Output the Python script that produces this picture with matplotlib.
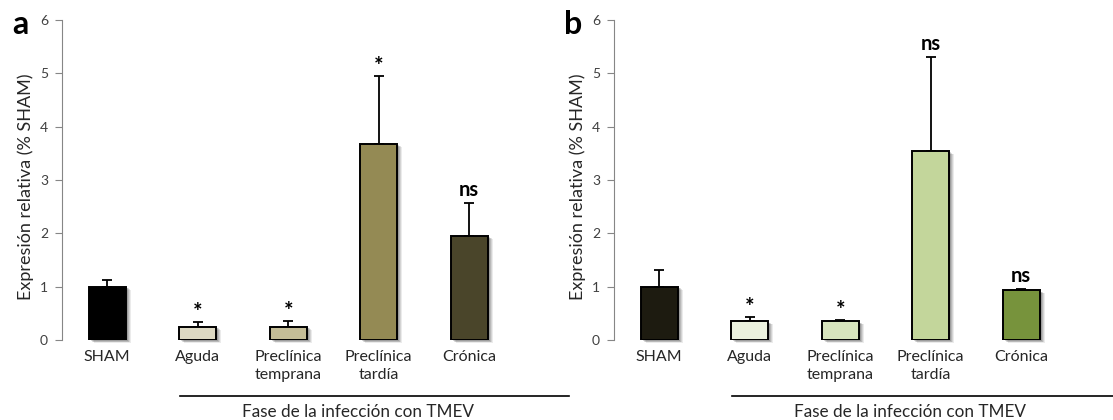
import numpy as np
import matplotlib
matplotlib.use("Agg")
import matplotlib.pyplot as plt
import matplotlib.transforms as mtransforms
from matplotlib.lines import Line2D

plt.rcParams['font.family'] = ['Lato', 'DejaVu Sans']

categories = ['SHAM', 'Aguda', 'Preclínica\ntemprana', 'Preclínica\ntardía', 'Crónica']

# panel a
vals_a = [1.0, 0.25, 0.25, 3.68, 1.95]
err_a = [0.12, 0.09, 0.11, 1.27, 0.61]
sig_a = ['', '*', '*', '*', 'ns']
colors_a = ['#000000', '#ddd9c3', '#c4bd97', '#948a54', '#4a452a']

# panel b
vals_b = [1.0, 0.35, 0.35, 3.54, 0.93]
err_b = [0.31, 0.08, 0.02, 1.77, 0.02]
sig_b = ['', '*', '*', 'ns', 'ns']
colors_b = ['#1d1b10', '#ebf1de', '#d7e4bd', '#c3d69b', '#77933c']

xlabel = 'Fase de la infección con TMEV'
ylabel = 'Expresión relativa (% SHAM)'

W, H = 1113, 420
fig = plt.figure(figsize=(W / 100, H / 100), dpi=100)


def panel(left_px, vals, errs, sigs, colors, letter, line_px, label_cx):
    ax = fig.add_axes([left_px / W, 1 - 340 / H, 493 / W, 320 / H])
    x = np.arange(len(vals))
    # soft drop shadow
    for k, a in [(5, 0.08), (4, 0.1), (3, 0.12), (2, 0.15)]:
        tr = mtransforms.offset_copy(ax.transData, fig=fig, x=k, y=-k * 0.6, units='dots')
        ax.bar(x, vals, width=0.41, color='#000000', alpha=a, linewidth=0,
               transform=tr, zorder=1, clip_on=False)
    ax.bar(x, vals, width=0.41, color=colors, edgecolor='black', linewidth=1.4, zorder=3)
    ax.errorbar(x, vals, yerr=[np.zeros(len(vals)), errs], fmt='none', ecolor='black',
                elinewidth=1.3, capsize=3.5, capthick=1.3, zorder=2)
    for xi, v, e, s in zip(x, vals, errs, sigs):
        if s == '*':
            ax.text(xi, v + e - 0.02, s, ha='center', va='bottom', fontsize=16,
                    fontweight='bold', color='black')
        elif s:
            ax.text(xi, v + e + 0.06, s, ha='center', va='bottom', fontsize=14.5,
                    fontweight='bold', color='black')
    ax.set_xlim(-0.5, 4.95)
    ax.set_ylim(0, 6)
    ax.set_yticks(range(7))
    ax.set_xticks(x)
    ax.set_xticklabels(categories, fontsize=11.5, color='#262626', linespacing=1.4)
    ax.tick_params(axis='x', length=0, pad=7)
    ax.tick_params(axis='y', length=5, width=0.8, color='#868686', labelsize=10,
                   labelcolor='#404040', pad=5)
    for sp in ['top', 'right', 'bottom']:
        ax.spines[sp].set_visible(False)
    ax.spines['left'].set_color('#868686')
    ax.spines['left'].set_linewidth(0.8)
    ax.set_ylabel(ylabel, fontsize=13, color='#262626')
    ax.yaxis.set_label_coords(-28 / 493, 0.478)
    fig.text((left_px - 50) / W, 1 - 25 / H, letter, fontsize=23, fontweight='bold',
             ha='left', va='center')
    fig.add_artist(Line2D([line_px[0] / W, line_px[1] / W], [1 - 396 / H] * 2,
                          color='black', linewidth=1.2))
    fig.text(label_cx / W, 1 - 412 / H, xlabel,
             fontsize=12.3, color='#262626', ha='center', va='center')
    return ax


panel(62, vals_a, err_a, sig_a, colors_a, 'a', (180, 569), 358)
panel(614, vals_b, err_b, sig_b, colors_b, 'b', (732, 1113), 910)

fig.savefig('out.png', dpi=100)
